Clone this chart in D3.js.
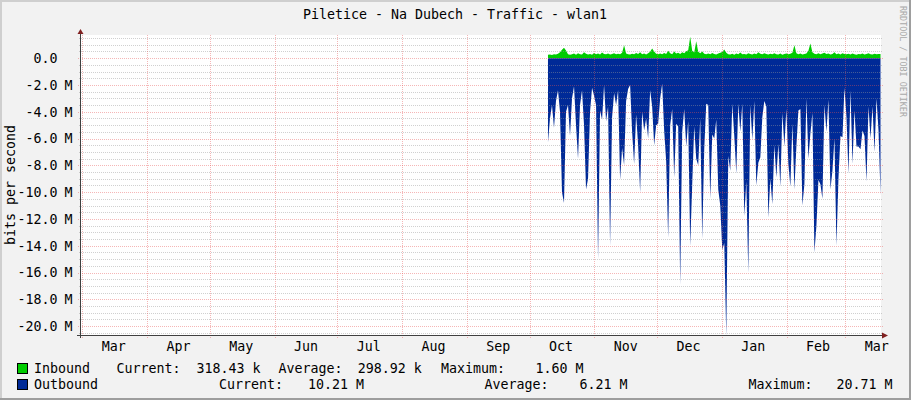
<!DOCTYPE html>
<html>
<head>
<meta charset="utf-8">
<title>Piletice - Na Dubech - Traffic - wlan1</title>
<script src="https://d3js.org/d3.v7.min.js"></script>
<style>
  body { margin: 0; background: #fff; }
  svg text { font-family: "DejaVu Sans Mono", monospace; fill: #000; }
</style>
</head>
<body>
<svg id="mainsvg" width="911" height="400"></svg>
<script>
// ---------- data ----------
const title = "Piletice - Na Dubech - Traffic - wlan1";
const yTitle = "bits per second";
const watermark = "RRDTOOL / TOBI OETIKER";

// time window of the graph and of the samples (one sample every 23 h)
const timeStart = new Date(2013, 1, 28, 9, 0);
const timeEnd = new Date(2014, 2, 18, 2, 0);
const firstMonth = new Date(2013, 2, 1);
const dataStart = new Date(2013, 9, 9, 18, 30);
const stepHours = 23;

// value range in Mbit/s
const yMin = -20.66;
const yMax = 1.73;
const yMajorTicks = [0, -2, -4, -6, -8, -10, -12, -14, -16, -18, -20];

// inbound traffic, Mbit/s
const inbound = [
  0.25, 0.28, 0.24, 0.30, 0.27, 0.33, 0.45, 0.62, 0.77, 0.58,
  0.30, 0.26, 0.29, 0.34, 0.25, 0.36, 0.30, 0.28, 0.45, 0.33,
  0.27, 0.31, 0.26, 0.38, 0.30, 0.35, 0.28, 0.42, 0.32, 0.29,
  0.34, 0.27, 0.31, 0.36, 0.29, 0.33, 0.30, 0.40, 0.97, 0.35,
  0.30, 0.27, 0.33, 0.29, 0.38, 0.31, 0.45, 0.30, 0.34, 0.28,
  0.36, 0.48, 0.72, 0.50, 0.33, 0.29, 0.35, 0.30, 0.38, 0.32,
  0.55, 0.36, 0.30, 0.50, 0.34, 0.40, 0.31, 0.45, 0.37, 0.52,
  0.60, 1.60, 0.55, 0.42, 1.27, 0.48, 0.36, 0.50, 0.33, 0.30,
  0.34, 0.29, 0.38, 0.31, 0.27, 0.35, 0.40, 0.46, 0.65, 0.40,
  0.30, 0.28, 0.33, 0.26, 0.35, 0.30, 0.42, 0.29, 0.32, 0.27,
  0.36, 0.31, 0.28, 0.34, 0.30, 0.45, 0.33, 0.29, 0.37, 0.31,
  0.27, 0.33, 0.29, 0.36, 0.30, 0.28, 0.34, 0.26, 0.31, 0.35,
  0.29, 0.33, 0.40, 0.97, 0.36, 0.30, 0.34, 0.28, 0.32, 0.35,
  0.55, 1.10, 0.45, 0.33, 0.30, 0.36, 0.29, 0.34, 0.40, 0.31,
  0.35, 0.28, 0.32, 0.45, 0.30, 0.34, 0.27, 0.36, 0.31, 0.29,
  0.33, 0.28, 0.35, 0.30, 0.26, 0.32, 0.29, 0.34, 0.27, 0.31,
  0.36, 0.30, 0.28, 0.33, 0.29, 0.31, 0.318
];

// outbound traffic, Mbit/s (drawn below zero)
const outbound = [
  6.3, 4.5, 3.5, 5.2, 3.2, 2.4, 4.0, 10.0, 10.8, 4.0,
  3.5, 5.8, 3.0, 2.1, 5.0, 7.5, 3.5, 2.4, 5.0, 9.8,
  9.0, 4.0, 2.2, 2.8, 3.5, 15.0, 3.9, 4.6, 2.0, 4.7,
  3.6, 14.0, 4.4, 2.6, 3.5, 2.4, 9.1, 6.7, 8.0, 3.2,
  2.3, 2.0, 5.5, 7.9, 4.2, 6.5, 10.0, 4.0, 5.4, 4.5,
  6.0, 2.4, 3.6, 6.5, 5.0,
  4.9, 3.0, 1.9, 5.4, 7.7, 13.4, 5.0, 3.8, 8.9, 4.9,
  5.1, 16.9, 5.5, 3.8, 6.6, 4.7, 14.0, 9.4, 5.1, 7.5,
  8.0, 4.5, 13.5, 6.8, 3.4, 3.5, 10.5, 5.7, 6.0, 4.6,
  9.8, 11.0, 14.3, 13.8, 20.7, 7.3, 8.4, 3.4, 5.8, 8.6,
  3.4, 5.5, 3.4, 11.8, 9.2, 16.0, 3.5, 6.1, 3.2, 9.5,
  7.8, 7.4, 4.4, 3.2, 3.6, 11.9,
  9.0, 10.9, 6.5, 8.9, 6.4, 9.6, 4.1, 6.6, 3.8, 7.9,
  9.6, 4.9, 9.8, 6.6, 3.9, 3.8, 11.0, 9.4, 3.0, 7.5,
  5.6, 4.1, 14.5, 12.5, 9.1, 9.4, 10.5, 3.5, 5.5, 3.1,
  9.8, 8.4, 6.0, 14.0, 9.0, 5.8, 5.9, 2.2, 4.4, 8.6,
  2.4, 7.9, 3.9, 6.6, 6.6, 6.8, 5.4, 5.8, 9.2, 3.6,
  6.0, 3.6, 7.0, 3.0, 5.4, 10.21
];

// legend
const seriesNames = ["Inbound", "Outbound"];
const statNames = ["Current:", "Average:", "Maximum:"];
const inboundStats = ["318.43 k", "298.92 k", "1.60 M"];
const outboundStats = ["10.21 M", "6.21 M", "20.71 M"];

// ---------- layout & style ----------
const W = 911, H = 400;
const plot = {left: 81, right: 881, top: 35, bottom: 335};
const colors = {
  back: "#f2f2f2", shadeA: "#cfcfcf", shadeB: "#9e9e9e",
  canvas: "#ffffff", grid: "rgba(150,150,150,0.45)", mgrid: "rgba(230,80,80,0.42)",
  axis: "#404040", arrow: "#802020",
  inbound: "#00cc00", outbound: "#002a97", watermark: "#a9a9a9"
};
const fontSize = "13.3px";
// legend columns: [label x, value x] for each stat, one list per row
const legendCols = [
  [[116.5, 196.5], [278.5, 357.8], [441, 535.5]],
  [[219, 308], [484.5, 579.5], [748.5, 836.5]]
];
const legendRows = [373, 389];

// ---------- drawing ----------
const svg = d3.select("#mainsvg");

// frame
svg.append("rect").attr("width", W).attr("height", H).attr("fill", colors.back);
svg.append("rect").attr("x", 0).attr("y", 0).attr("width", W).attr("height", 2).attr("fill", colors.shadeA);
svg.append("rect").attr("x", 0).attr("y", 0).attr("width", 2).attr("height", H).attr("fill", colors.shadeA);
svg.append("rect").attr("x", 0).attr("y", H - 2).attr("width", W).attr("height", 2).attr("fill", colors.shadeB);
svg.append("rect").attr("x", W - 2).attr("y", 0).attr("width", 2).attr("height", H).attr("fill", colors.shadeB);

// scales
const x = d3.scaleTime().domain([timeStart, timeEnd]).range([plot.left, plot.right]);
const y = d3.scaleLinear().domain([yMin, yMax]).range([plot.bottom, plot.top]);

// canvas
svg.append("rect")
  .attr("x", plot.left).attr("y", plot.top)
  .attr("width", plot.right - plot.left).attr("height", plot.bottom - plot.top)
  .attr("fill", colors.canvas);

svg.append("clipPath").attr("id", "plotclip")
  .append("rect")
  .attr("x", plot.left).attr("y", plot.top)
  .attr("width", plot.right - plot.left).attr("height", plot.bottom - plot.top);

// data series
const points = inbound.map((v, i) => ({
  t: d3.timeHour.offset(dataStart, i * stepHours),
  inb: v,
  out: outbound[i]
}));

const dataG = svg.append("g").attr("clip-path", "url(#plotclip)");
dataG.append("path")
  .datum(points)
  .attr("fill", colors.inbound)
  .attr("d", d3.area().x(d => x(d.t)).y0(y(0)).y1(d => y(d.inb)));
dataG.append("path")
  .datum(points)
  .attr("fill", colors.outbound)
  .attr("d", d3.area().x(d => x(d.t)).y0(y(0)).y1(d => y(-d.out)));

// grid (drawn over the data, like rrdtool), dotted 1 on / 1 off
const gridG = svg.append("g");
function dotted(sel, color) {
  sel.attr("stroke", color)
    .attr("stroke-width", 1)
    .attr("stroke-dasharray", "1 1")
    .attr("shape-rendering", "crispEdges");
}

const halfSteps = d3.range(Math.ceil(yMin * 2), Math.floor(yMax * 2) + 1).map(i => i / 2);
const minorTicks = halfSteps.filter(v => v % 2 !== 0);

gridG.selectAll("line.minor").data(minorTicks).join("line")
  .attr("class", "minor")
  .attr("x1", plot.left - 2).attr("x2", plot.right + 2)
  .attr("y1", d => Math.round(y(d)) + 0.5).attr("y2", d => Math.round(y(d)) + 0.5)
  .call(dotted, colors.grid);

gridG.selectAll("line.major").data(yMajorTicks).join("line")
  .attr("class", "major")
  .attr("x1", plot.left - 3).attr("x2", plot.right + 2)
  .attr("y1", d => Math.round(y(d)) + 0.5).attr("y2", d => Math.round(y(d)) + 0.5)
  .call(dotted, colors.mgrid);

const months = d3.timeMonth.range(firstMonth, timeEnd);
gridG.selectAll("line.month").data(months).join("line")
  .attr("class", "month")
  .attr("x1", d => Math.round(x(d)) + 0.5).attr("x2", d => Math.round(x(d)) + 0.5)
  .attr("y1", plot.top).attr("y2", plot.bottom + 3)
  .call(dotted, colors.mgrid);

// axes
svg.append("line")
  .attr("x1", plot.left - 0.5).attr("x2", plot.left - 0.5)
  .attr("y1", plot.bottom + 3).attr("y2", plot.top - 4)
  .attr("stroke", colors.axis).attr("shape-rendering", "crispEdges");
svg.append("line")
  .attr("x1", plot.left - 4).attr("x2", plot.right + 3)
  .attr("y1", plot.bottom + 0.5).attr("y2", plot.bottom + 0.5)
  .attr("stroke", colors.axis).attr("shape-rendering", "crispEdges");
svg.append("path")
  .attr("d", d3.line()([[plot.left - 3.5, plot.top - 1], [plot.left + 2.5, plot.top - 1], [plot.left - 0.5, plot.top - 6]]) + "Z")
  .attr("fill", colors.arrow);
svg.append("path")
  .attr("d", d3.line()([[plot.right + 1, plot.bottom - 2.5], [plot.right + 1, plot.bottom + 3.5], [plot.right + 7, plot.bottom + 0.5]]) + "Z")
  .attr("fill", colors.arrow);

// y tick labels: number right-aligned, unit in its own column
const yLab = svg.append("g").attr("font-size", fontSize);
yLab.selectAll("text.num").data(yMajorTicks).join("text")
  .attr("class", "num")
  .attr("x", 57.5).attr("y", d => y(d)).attr("dy", "0.36em")
  .attr("text-anchor", "end")
  .text(d => d.toFixed(1));
yLab.selectAll("text.unit").data(yMajorTicks.filter(d => d !== 0)).join("text")
  .attr("class", "unit")
  .attr("x", 64.5).attr("y", d => y(d)).attr("dy", "0.36em")
  .text("M");

// x tick labels, centred half a month after the month start
svg.append("g").attr("font-size", fontSize)
  .selectAll("text").data(months).join("text")
  .attr("x", d => x(d3.timeDay.offset(d, 15)))
  .attr("y", 351)
  .attr("text-anchor", "middle")
  .text(d3.timeFormat("%b"));

// titles
svg.append("text")
  .attr("x", 455).attr("y", 19)
  .attr("text-anchor", "middle").attr("font-size", fontSize)
  .text(title);
svg.append("text")
  .attr("transform", "translate(15,185) rotate(-90)")
  .attr("text-anchor", "middle").attr("font-size", fontSize)
  .text(yTitle);
svg.append("text")
  .attr("transform", "translate(900,6) rotate(90)")
  .attr("font-size", "8.4px")
  .style("fill", colors.watermark)
  .text(watermark);

// legend
const seriesColors = [colors.inbound, colors.outbound];
const seriesStats = [inboundStats, outboundStats];
const legend = svg.append("g").attr("font-size", fontSize);
seriesNames.forEach((name, r) => {
  const base = legendRows[r];
  legend.append("rect")
    .attr("x", 17.5).attr("y", base - 9.5)
    .attr("width", 10).attr("height", 10)
    .attr("fill", seriesColors[r]).attr("stroke", "#000")
    .attr("shape-rendering", "crispEdges");
  legend.append("text").attr("x", 34).attr("y", base).text(name);
  statNames.forEach((s, c) => {
    legend.append("text").attr("x", legendCols[r][c][0]).attr("y", base).text(s);
    legend.append("text").attr("x", legendCols[r][c][1]).attr("y", base).text(seriesStats[r][c]);
  });
});
</script>
</body>
</html>
